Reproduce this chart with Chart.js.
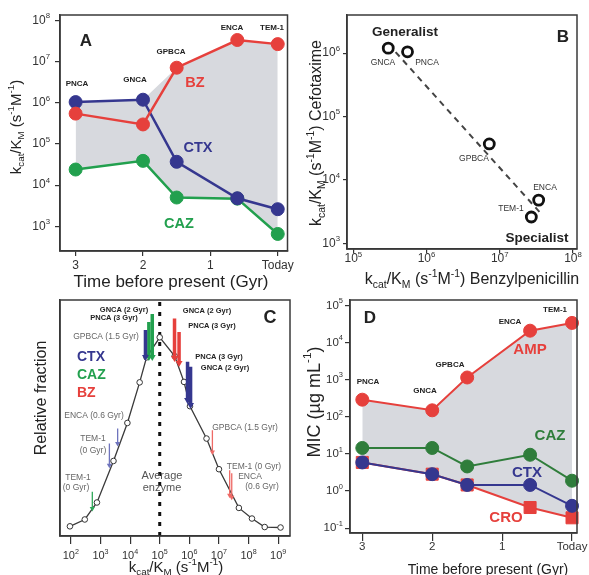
<!DOCTYPE html>
<html>
<head>
<meta charset="utf-8">
<script src="https://cdn.jsdelivr.net/npm/chart.js@4.4.0/dist/chart.umd.min.js"></script>
<style>
body { margin: 0; background: #fff; }
#fig { position: relative; width: 589px; height: 575px; overflow: hidden; }
#fig canvas { position: absolute; }
</style>
</head>
<body>
<div id="fig">
  <canvas id="panel-a" width="295" height="300" style="left:0;top:0"></canvas>
  <canvas id="panel-b" width="294" height="300" style="left:295px;top:0"></canvas>
  <canvas id="panel-c" width="295" height="287" style="left:0;top:288px"></canvas>
  <canvas id="panel-d" width="294" height="287" style="left:295px;top:288px"></canvas>
</div>
<script>
var FONT = '"Liberation Sans", Arial, Helvetica, sans-serif';
var RED = '#e6403c', BLUE = '#35378f', GREEN = '#22a04e', GREEN_D = '#2f7d3b', GREY_FILL = '#d7d9de';

// enzymes, oldest first
var enzymes = ['PNCA', 'GNCA', 'GPBCA', 'ENCA', 'TEM-1'];
var timeGyr = [3, 2, 1.5, 0.6, 0];
var timeTicks = [3, 2, 1, 0];

// A: kcat/KM (s-1 M-1)
var bzKcat = [5.5e5, 3.0e5, 7.2e6, 3.4e7, 2.7e7];
var ctxKcat = [1.05e6, 1.2e6, 3.7e4, 4.8e3, 2.6e3];
var cazKcat = [2.4e4, 3.9e4, 5.0e3, 4.7e3, 650];
var kcatTicksA = [1e3, 1e4, 1e5, 1e6, 1e7, 1e8];

// B: trade-off line
var fitBz = [3.0e5, 3.6e7];
var fitCtx = [1.4e6, 3.0e3];
var bzTicksB = [1e5, 1e6, 1e7, 1e8];
var ctxTicksB = [1e3, 1e4, 1e5, 1e6];

// C: distribution of kcat/KM
var histKcat = [93, 295, 760, 2750, 8100, 21000, 36000, 1.0e5, 3.2e5, 6.6e5, 1.05e6, 3.8e6, 1.0e7, 4.7e7, 1.3e8, 3.5e8, 1.2e9];
var histFrac = [0.041, 0.070, 0.142, 0.318, 0.479, 0.651, 0.757, 0.842, 0.762, 0.653, 0.550, 0.413, 0.283, 0.119, 0.074, 0.038, 0.036];
var histTicks = [1e2, 1e3, 1e4, 1e5, 1e6, 1e7, 1e8, 1e9];
var averageKcat = 1e5;
var arrowDrug = ['CTX', 'CAZ', 'CAZ', 'BZ', 'BZ', 'CTX', 'CTX', 'CTX', 'CTX', 'CAZ', 'BZ', 'BZ', 'BZ'];
var arrowKcat = [3.3e4, 4.3e4, 5.6e4, 3.16e5, 4.5e5, 8.7e5, 1.1e6, 3.8e3, 2.0e3, 530, 6.0e6, 2.3e7, 2.7e7];
var arrowFrom = [0.873, 0.907, 0.941, 0.922, 0.864, 0.738, 0.717, 0.456, 0.392, 0.187, 0.448, 0.279, 0.266];
var arrowTo = [0.758, 0.758, 0.758, 0.754, 0.733, 0.576, 0.555, 0.392, 0.300, 0.117, 0.356, 0.173, 0.164];
var arrowMain = [1, 1, 1, 1, 1, 1, 1, 0, 0, 0, 0, 0, 0];

// D: MIC (ug/mL)
var ampMic = [290, 150, 1150, 2.1e4, 3.4e4];
var cazMic = [14.5, 14.5, 4.6, 9.5, 1.9];
var ctxMic = [5.9, 2.85, 1.46, 1.46, 0.4];
var croMic = [5.9, 2.85, 1.46, 0.36, 0.19];
var micTicks = [0.1, 1, 10, 100, 1e3, 1e4, 1e5];

var KCAT = [['k', 0], ['cat', 1], ['/K', 0], ['M', 1], [' (s', 0], ['-1', -1], ['M', 0], ['-1', -1], [')', 0]];

function drawRich(ctx, parts, x, y, o) {
    var size = o.size, weight = o.bold ? 'bold ' : '';
    ctx.save();
    ctx.translate(x, y);
    if (o.rotate) ctx.rotate(o.rotate);
    ctx.fillStyle = o.color || '#222';
    ctx.textBaseline = 'middle';
    ctx.textAlign = 'left';
    var w = 0;
    parts.forEach(function(p){
        ctx.font = weight + (p[1] ? size * 0.65 : size) + 'px ' + FONT;
        w += ctx.measureText(p[0]).width;
    });
    var cx = o.align === 'left' ? 0 : (o.align === 'right' ? -w : -w / 2);
    parts.forEach(function(p){
        ctx.font = weight + (p[1] ? size * 0.65 : size) + 'px ' + FONT;
        var dy = p[1] === 1 ? size * 0.3 : (p[1] === -1 ? -size * 0.38 : 0);
        ctx.fillText(p[0], cx, dy);
        cx += ctx.measureText(p[0]).width;
    });
    ctx.restore();
}

function decadeLabel(v){
    return [['10', 0], [String(Math.round(Math.log10(v))), -1]];
}

function timeLabel(v){
    return [[v === 0 ? 'Today' : String(v), 0]];
}

function makeDecor(spec){
    return {
        id: 'decor',
        afterDraw: function(chart){
            var ctx = chart.ctx, a = chart.chartArea;
            var xs = chart.scales.x, ys = chart.scales.y;
            ctx.save();
            ctx.strokeStyle = '#3a3a3a';
            ctx.lineWidth = 1.5;
            ctx.strokeRect(a.left, a.top, a.right - a.left, a.bottom - a.top);
            ctx.restore();
            if (spec.xLabel) {
                xs.ticks.forEach(function(t){
                    drawRich(ctx, spec.xLabel(t.value), xs.getPixelForValue(t.value), a.bottom + spec.xOff, {size: spec.tickSize, color: '#333'});
                });
            }
            if (spec.yLabel) {
                ys.ticks.forEach(function(t){
                    drawRich(ctx, spec.yLabel(t.value), a.left - spec.yOff, ys.getPixelForValue(t.value), {size: spec.tickSize, align: 'right', color: '#333'});
                });
            }
            spec.texts.forEach(function(t){
                var parts = typeof t.t === 'string' ? [[t.t, 0]] : t.t;
                drawRich(ctx, parts, t.x - spec.ox, t.y - spec.oy, {size: t.s, bold: t.b, color: t.c || '#222', align: t.a, rotate: t.r});
            });
        }
    };
}

function axis(type, min, max, ticks, size, tickLen, reverse){
    return {
        type: type, min: min, max: max, reverse: !!reverse, bounds: 'data',
        afterBuildTicks: function(s){ s.ticks = ticks.map(function(v){ return {value: v}; }); },
        afterFit: function(s){ if (s.isHorizontal()) s.height = size; else s.width = size; },
        ticks: {display: false},
        grid: {drawOnChartArea: false, drawTicks: tickLen > 0, tickLength: tickLen, color: '#333', lineWidth: 1.2},
        border: {color: '#333', width: 1.5}
    };
}

function pairs(xs, ys){
    return xs.map(function(x, i){ return {x: x, y: ys[i]}; });
}

function series(xs, ys, color, r, style, lw){
    return {
        data: pairs(xs, ys), borderColor: color, borderWidth: lw || 2.5,
        pointRadius: r, pointStyle: style || 'circle',
        pointBackgroundColor: color, pointBorderColor: color, pointBorderWidth: 1,
        tension: 0, clip: false, fill: false
    };
}

function envelope(xs, list){
    var hi = xs.map(function(x, i){ return {x: x, y: Math.max.apply(null, list.map(function(s){ return s[i]; }))}; });
    var lo = xs.map(function(x, i){ return {x: x, y: Math.min.apply(null, list.map(function(s){ return s[i]; }))}; });
    return [
        {data: hi, borderWidth: 0, pointRadius: 0, fill: '+1', backgroundColor: GREY_FILL, tension: 0, clip: false},
        {data: lo, borderWidth: 0, pointRadius: 0, fill: false, tension: 0, clip: false}
    ];
}

function makeChart(id, datasets, scales, padding, decor){
    return new Chart(document.getElementById(id), {
        type: 'line',
        data: {datasets: datasets},
        options: {
            responsive: false, animation: false, events: [],
            layout: {padding: padding},
            scales: scales,
            plugins: {legend: {display: false}, tooltip: {enabled: false}}
        },
        plugins: [decor]
    });
}

// ---- A
makeChart('panel-a',
    [series(timeGyr, bzKcat, RED, 6.5), series(timeGyr, ctxKcat, BLUE, 6.5), series(timeGyr, cazKcat, GREEN, 6.5)]
        .concat(envelope(timeGyr, [bzKcat, ctxKcat, cazKcat])),
    {
        x: axis('linear', -0.145, 3.232, timeTicks, 49, 5, true),
        y: axis('logarithmic', 250, 1.38e8, kcatTicksA, 60, 5)
    },
    {top: 15, right: 2, left: 0, bottom: 0},
    makeDecor({ox: 0, oy: 0, xLabel: timeLabel, yLabel: decadeLabel, xOff: 15, yOff: 10, tickSize: 12, texts: [
        {t: 'A', x: 86, y: 41, s: 17, b: 1},
        {t: enzymes[0], x: 77, y: 84, s: 8, b: 1},
        {t: enzymes[1], x: 135, y: 80, s: 8, b: 1},
        {t: enzymes[2], x: 171, y: 52, s: 8, b: 1},
        {t: enzymes[3], x: 232, y: 28, s: 8, b: 1},
        {t: enzymes[4], x: 272, y: 28, s: 8, b: 1},
        {t: 'BZ', x: 195, y: 83, s: 14.5, b: 1, c: RED},
        {t: 'CTX', x: 198, y: 148, s: 14.5, b: 1, c: BLUE},
        {t: 'CAZ', x: 179, y: 224, s: 14.5, b: 1, c: GREEN},
        {t: 'Time before present (Gyr)', x: 171, y: 282, s: 17},
        {t: KCAT, x: 17, y: 127, s: 15, r: -Math.PI / 2}
    ]})
);

// ---- B
makeChart('panel-b',
    [
        {data: pairs(bzKcat, ctxKcat), showLine: false, pointRadius: 5, pointBorderWidth: 2.8,
         pointBorderColor: '#111', pointBackgroundColor: '#fff', clip: false},
        {data: pairs(fitBz, fitCtx), borderColor: '#444', borderWidth: 2, borderDash: [6, 5], pointRadius: 0, clip: false}
    ],
    {
        x: axis('logarithmic', 8.2e4, 1.135e8, bzTicksB, 51, 4),
        y: axis('logarithmic', 813, 4.0e6, ctxTicksB, 52, 4)
    },
    {top: 15, right: 12, left: 0, bottom: 0},
    makeDecor({ox: 295, oy: 0, xLabel: decadeLabel, yLabel: decadeLabel, xOff: 10, yOff: 7, tickSize: 12, texts: [
        {t: 'B', x: 563, y: 37, s: 17, b: 1},
        {t: 'Generalist', x: 405, y: 32, s: 13.5, b: 1},
        {t: 'Specialist', x: 537, y: 238, s: 13.5, b: 1},
        {t: enzymes[1], x: 383, y: 63, s: 8.5, c: '#333'},
        {t: enzymes[0], x: 427, y: 63, s: 8.5, c: '#333'},
        {t: enzymes[2], x: 474, y: 159, s: 8.5, c: '#333'},
        {t: enzymes[3], x: 545, y: 188, s: 8.5, c: '#333'},
        {t: enzymes[4], x: 511, y: 209, s: 8.5, c: '#333'},
        {t: KCAT.concat([[' Benzylpenicillin', 0]]), x: 472, y: 280, s: 16},
        {t: KCAT.concat([[' Cefotaxime', 0]]), x: 317, y: 133, s: 16, r: -Math.PI / 2}
    ]})
);

// ---- C
var drugColor = {CTX: BLUE, CAZ: GREEN, BZ: RED};
var drugColorLight = {CTX: '#6f74bd', CAZ: '#2fa85a', BZ: '#ee6a66'};
var arrowSets = arrowKcat.map(function(k, i){
    var c = arrowMain[i] ? drugColor[arrowDrug[i]] : drugColorLight[arrowDrug[i]];
    return {
        data: [{x: k, y: arrowFrom[i]}, {x: k, y: arrowTo[i]}],
        borderColor: c, borderWidth: arrowMain[i] ? 3.5 : 1.3,
        pointRadius: [0, arrowMain[i] ? 4 : 3], pointStyle: 'triangle', pointRotation: 180,
        pointBackgroundColor: c, pointBorderColor: c, pointBorderWidth: 0, clip: false, fill: false
    };
});
makeChart('panel-c',
    arrowSets.concat([
        {data: pairs(histKcat, histFrac), borderColor: '#3a3a3a', borderWidth: 1.3, pointRadius: 2.8,
         pointBackgroundColor: '#fff', pointBorderColor: '#333', pointBorderWidth: 1, tension: 0, clip: false, fill: false},
        {data: [{x: averageKcat, y: 0}, {x: averageKcat, y: 1}], borderColor: '#111', borderWidth: 3,
         borderDash: [4, 6], pointRadius: 0, clip: false, fill: false}
    ]),
    {
        x: axis('logarithmic', 43, 2.5e9, histTicks, 39, 8),
        y: axis('linear', 0, 1, [], 60, 0)
    },
    {top: 12, right: 2, left: 0, bottom: 0},
    makeDecor({ox: 0, oy: 288, xLabel: decadeLabel, xOff: 20, tickSize: 11, texts: [
        {t: 'C', x: 270, y: 318, s: 18, b: 1},
        {t: 'GNCA (2 Gyr)', x: 124, y: 310, s: 7.5, b: 1},
        {t: 'PNCA (3 Gyr)', x: 114, y: 318, s: 7.5, b: 1},
        {t: 'GPBCA (1.5 Gyr)', x: 106, y: 337, s: 8.5, c: '#666'},
        {t: 'CTX', x: 77, y: 357, s: 14, b: 1, c: BLUE, a: 'left'},
        {t: 'CAZ', x: 77, y: 375, s: 14, b: 1, c: GREEN, a: 'left'},
        {t: 'BZ', x: 77, y: 393, s: 14, b: 1, c: RED, a: 'left'},
        {t: 'ENCA (0.6 Gyr)', x: 94, y: 416, s: 8.5, c: '#666'},
        {t: 'TEM-1', x: 93, y: 439, s: 8.5, c: '#666'},
        {t: '(0 Gyr)', x: 93, y: 451, s: 8.5, c: '#666'},
        {t: 'TEM-1', x: 78, y: 478, s: 8.5, c: '#666'},
        {t: '(0 Gyr)', x: 76, y: 488, s: 8.5, c: '#666'},
        {t: 'Average', x: 162, y: 476, s: 11, c: '#555'},
        {t: 'enzyme', x: 162, y: 488, s: 11, c: '#555'},
        {t: 'GNCA (2 Gyr)', x: 207, y: 311, s: 7.5, b: 1},
        {t: 'PNCA (3 Gyr)', x: 212, y: 326, s: 7.5, b: 1},
        {t: 'PNCA (3 Gyr)', x: 219, y: 357, s: 7.5, b: 1},
        {t: 'GNCA (2 Gyr)', x: 225, y: 368, s: 7.5, b: 1},
        {t: 'GPBCA (1.5 Gyr)', x: 245, y: 428, s: 8.5, c: '#666'},
        {t: 'TEM-1 (0 Gyr)', x: 254, y: 467, s: 8.5, c: '#666'},
        {t: 'ENCA', x: 250, y: 477, s: 8.5, c: '#666'},
        {t: '(0.6 Gyr)', x: 262, y: 487, s: 8.5, c: '#666'},
        {t: 'Relative fraction', x: 42, y: 398, s: 16, r: -Math.PI / 2},
        {t: KCAT, x: 176, y: 568, s: 15}
    ]})
);

// ---- D
makeChart('panel-d',
    [series(timeGyr, ampMic, RED, 6.5, 'circle', 2), series(timeGyr, cazMic, GREEN_D, 6.5, 'circle', 2),
     series(timeGyr, ctxMic, BLUE, 6.5, 'circle', 2), series(timeGyr, croMic, RED, 8.5, 'rect', 2)]
        .concat(envelope(timeGyr, [ampMic, cazMic, ctxMic, croMic])),
    {
        x: axis('linear', -0.071, 3.176, timeTicks, 42, 8, true),
        y: axis('logarithmic', 0.074, 1.41e5, micTicks, 55, 5)
    },
    {top: 12, right: 12, left: 0, bottom: 0},
    makeDecor({ox: 295, oy: 288, xLabel: timeLabel, yLabel: decadeLabel, xOff: 14, yOff: 7, tickSize: 11.5, texts: [
        {t: 'D', x: 370, y: 318, s: 17, b: 1},
        {t: enzymes[0], x: 368, y: 382, s: 8, b: 1},
        {t: enzymes[1], x: 425, y: 391, s: 8, b: 1},
        {t: enzymes[2], x: 450, y: 365, s: 8, b: 1},
        {t: enzymes[3], x: 510, y: 322, s: 8, b: 1},
        {t: enzymes[4], x: 555, y: 310, s: 8, b: 1},
        {t: 'AMP', x: 530, y: 350, s: 15, b: 1, c: RED},
        {t: 'CAZ', x: 550, y: 436, s: 15, b: 1, c: GREEN_D},
        {t: 'CTX', x: 527, y: 473, s: 15, b: 1, c: BLUE},
        {t: 'CRO', x: 506, y: 518, s: 15, b: 1, c: RED},
        {t: 'Time before present (Gyr)', x: 488, y: 570, s: 14},
        {t: [['MIC (\u00b5g mL', 0], ['-1', -1], [')', 0]], x: 315, y: 402, s: 18, r: -Math.PI / 2}
    ]})
);
</script>
</body>
</html>
